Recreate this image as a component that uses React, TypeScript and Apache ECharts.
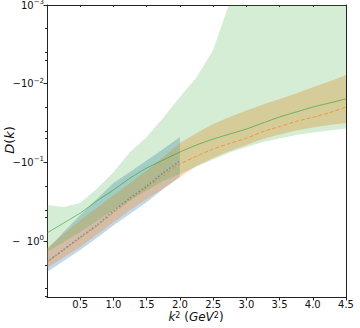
import React, { useEffect, useRef } from "react";
import * as echarts from "echarts";

// k^2 grid (GeV^2)
const k2 = [0, 0.25, 0.5, 0.75, 1, 1.25, 1.5, 1.75, 2, 2.25, 2.5, 2.75, 3, 3.25, 3.5, 3.75, 4, 4.25, 4.5];

// Green: central curve and band
const greenMid = [-0.789, -0.589, -0.44, -0.309, -0.224, -0.158, -0.118, -0.0931, -0.0738, -0.0601, -0.0505, -0.0436, -0.0377, -0.0315, -0.0265, -0.0229, -0.0198, -0.0176, -0.0156];
const greenUpper = [-0.348, -0.369, -0.328, -0.216, -0.133, -0.0738, -0.0475, -0.027, -0.0148, -0.00834, -0.00373, -0.000916, -0.0001, -0.0001, -0.0001, -0.0001, -0.0001, -0.0001, -0.0001];
const greenLower = [-1.374, -1.026, -0.766, -0.555, -0.403, -0.301, -0.227, -0.172, -0.14, -0.113, -0.0918, -0.0748, -0.0637, -0.0551, -0.0497, -0.0449, -0.0417, -0.0394, -0.0371];

// Orange: central curve and band
const orangeMid = [-1.841, -1.297, -0.912, -0.643, -0.434, -0.301, -0.208, -0.148, -0.105, -0.0835, -0.0676, -0.0574, -0.0494, -0.0406, -0.0351, -0.0301, -0.0267, -0.0234, -0.0198];
const orangeUpper = [-1.224, -0.813, -0.54, -0.377, -0.263, -0.183, -0.127, -0.0853, -0.0566, -0.0423, -0.0325, -0.0265, -0.0219, -0.0184, -0.0156, -0.0133, -0.0111, -0.0094, -0.00774];
const orangeLower = [-2.198, -1.614, -1.189, -0.832, -0.582, -0.403, -0.294, -0.215, -0.153, -0.111, -0.0879, -0.0716, -0.0601, -0.0505, -0.0442, -0.0394, -0.036, -0.0335, -0.0315];

// Blue: only up to k^2 = 2
const k2Blue = [0, 0.25, 0.5, 0.75, 1, 1.25, 1.5, 1.75, 2];
const blueMid = [-1.841, -1.279, -0.887, -0.624, -0.414, -0.283, -0.2, -0.136, -0.0959];
const blueUpper = [-1.297, -0.766, -0.466, -0.292, -0.183, -0.132, -0.0946, -0.0676, -0.0475];
const blueLower = [-2.472, -1.791, -1.297, -0.912, -0.635, -0.45, -0.321, -0.218, -0.153];

// Axis ticks and titles
const xTicks = [0.5, 1, 1.5, 2, 2.5, 3, 3.5, 4, 4.5];
const yDecades = [-3, -2, -1, 0];
const minorMantissas = [2, 4, 5];
const xTitle = "{i|k}{s|2} ({i|GeV}{s|2})";
const yTitle = "{i|D}({i|k})";

const F = "DejaVu Sans";
const L = (d: number) => Math.log10(-d);
const Y_MIN = -3;
const Y_MAX = 0.71;

// keep the part of a polygon (in data space) with y >= yMin
function clipBelow(poly: number[][], yMin: number) {
  const out: number[][] = [];
  for (let i = 0; i < poly.length; i++) {
    const a = poly[i];
    const b = poly[(i + 1) % poly.length];
    const ain = a[1] >= yMin;
    const bin = b[1] >= yMin;
    if (ain) out.push(a);
    if (ain !== bin) {
      const t = (yMin - a[1]) / (b[1] - a[1]);
      out.push([a[0] + t * (b[0] - a[0]), yMin]);
    }
  }
  return out;
}

function band(id: string, xs: number[], upper: number[], lower: number[], fill: string) {
  return {
    id,
    type: "custom",
    silent: true,
    clip: true,
    data: [[xs[0], L(upper[0])]],
    renderItem: (_params: any, api: any) => {
      const poly = [
        ...xs.map((x, i) => [x, L(upper[i])]),
        ...xs.map((x, i) => [x, L(lower[i])]).reverse(),
      ];
      const pts = clipBelow(poly, Y_MIN).map((p) => api.coord(p));
      return { type: "polygon", shape: { points: pts }, style: { fill } };
    },
  };
}

export default function App() {
  const ref = useRef<HTMLDivElement>(null);
  useEffect(() => {
    document.body.style.margin = "0";
    if (!ref.current) return;
    const chart = echarts.init(ref.current, undefined, { renderer: "svg" });
    const minor: number[] = [];
    yDecades.forEach((d) =>
      minorMantissas.forEach((m) => {
        const v = d + Math.log10(m);
        if (v < Y_MAX) minor.push(v);
      })
    );
    const axisColor = "#222";
    const txt = "#111";
    chart.setOption({
      animation: false,
      grid: { left: 47, right: 14, top: 5, bottom: 31, containLabel: false, outerBoundsMode: "none" },
      graphic: [
        {
          type: "text",
          x: 196,
          y: 317,
          silent: true,
          style: {
            text: xTitle,
            fontSize: 12,
            fontFamily: F,
            fill: txt,
            align: "center",
            verticalAlign: "middle",
            lineHeight: 12,
            rich: {
              i: { fontSize: 12, fontFamily: F, fontStyle: "italic", fill: txt, lineHeight: 12 },
              s: { fontSize: 8, fontFamily: F, fill: txt, verticalAlign: "top", lineHeight: 7 },
            },
          },
        },
        {
          type: "text",
          x: 9,
          y: 140,
          rotation: Math.PI / 2,
          silent: true,
          style: {
            text: yTitle,
            fontSize: 13,
            fontFamily: F,
            fill: txt,
            align: "center",
            verticalAlign: "middle",
            rich: { i: { fontSize: 13, fontFamily: F, fontStyle: "italic", fill: txt } },
          },
        },
      ],
      xAxis: [
        {
          type: "value",
          min: 0,
          max: 4.5,
          interval: 0.5,
          position: "bottom",
          axisLine: { show: true, onZero: false, lineStyle: { color: axisColor, width: 1 } },
          axisTick: { show: true, length: 3.5, customValues: xTicks, lineStyle: { color: axisColor } },
          axisLabel: { customValues: xTicks, formatter: (v: number) => v.toFixed(1), fontSize: 10, color: txt, margin: 2, fontFamily: F },
          splitLine: { show: false },
        },
        {
          type: "value",
          min: 0,
          max: 4.5,
          interval: 0.5,
          position: "top",
          axisLine: { show: true, onZero: false, lineStyle: { color: axisColor, width: 1 } },
          axisTick: { show: true, inside: true, length: 2, customValues: xTicks, lineStyle: { color: axisColor } },
          axisLabel: { show: false },
          splitLine: { show: false },
        },
      ],
      yAxis: [
        {
          type: "value",
          min: Y_MIN,
          max: Y_MAX,
          inverse: true,
          position: "left",
          axisLine: { show: true, onZero: false, lineStyle: { color: axisColor, width: 1 } },
          axisTick: { show: true, length: 3.5, customValues: yDecades, lineStyle: { color: axisColor } },
          axisLabel: {
            customValues: yDecades,
            margin: 3,
            formatter: (v: number) => {
              const e = Math.round(v);
              if (e === -3) return "{b|10}{t|\u22123}";
              if (e === 0) return "{b|\u2212  10}{s|0}";
              return "{b|\u221210}{s|\u2212" + -e + "}";
            },
            rich: {
              b: { fontSize: 10, fontFamily: F, color: txt, lineHeight: 13 },
              s: { fontSize: 7, fontFamily: F, color: txt, verticalAlign: "top", lineHeight: 8 },
              t: { fontSize: 7, fontFamily: F, color: txt, verticalAlign: "top", lineHeight: 11 },
            },
          },
          splitLine: { show: false },
        },
        {
          type: "value",
          min: Y_MIN,
          max: Y_MAX,
          inverse: true,
          position: "right",
          axisLine: { show: true, onZero: false, lineStyle: { color: axisColor, width: 1 } },
          axisTick: { show: false },
          axisLabel: { show: false },
          splitLine: { show: false },
        },
        {
          type: "value",
          min: Y_MIN,
          max: Y_MAX,
          inverse: true,
          position: "left",
          axisLine: { show: false },
          axisTick: { show: true, length: 2, customValues: minor, lineStyle: { color: axisColor } },
          axisLabel: { show: false },
          splitLine: { show: false },
        },
      ],
      series: [
        band("blueBand", k2Blue, blueUpper, blueLower, "rgba(31,119,180,0.28)"),
        band("orangeBand", k2, orangeUpper, orangeLower, "rgba(255,127,14,0.3)"),
        band("greenBand", k2, greenUpper, greenLower, "rgba(44,160,44,0.2)"),
        {
          id: "greenMid",
          type: "line",
          data: k2.map((x, i) => [x, L(greenMid[i])]),
          symbol: "none",
          smooth: 0.2,
          silent: true,
          lineStyle: { color: "#2ca02c", width: 1, opacity: 0.6 },
        },
        {
          id: "orangeMid",
          type: "line",
          data: k2.map((x, i) => [x, L(orangeMid[i])]),
          symbol: "none",
          smooth: 0.2,
          silent: true,
          lineStyle: { color: "#ff7f0e", width: 1, opacity: 0.7, type: [4, 2] },
        },
        {
          id: "blueMid",
          type: "line",
          data: k2Blue.map((x, i) => [x, L(blueMid[i])]),
          symbol: "none",
          smooth: 0.2,
          silent: true,
          lineStyle: { color: "#1f77b4", width: 1.5, opacity: 0.55, type: [1.5, 2] },
        },
      ],
    });
    return () => chart.dispose();
  }, []);
  return <div ref={ref} style={{ width: 360, height: 328 }} />;
}
